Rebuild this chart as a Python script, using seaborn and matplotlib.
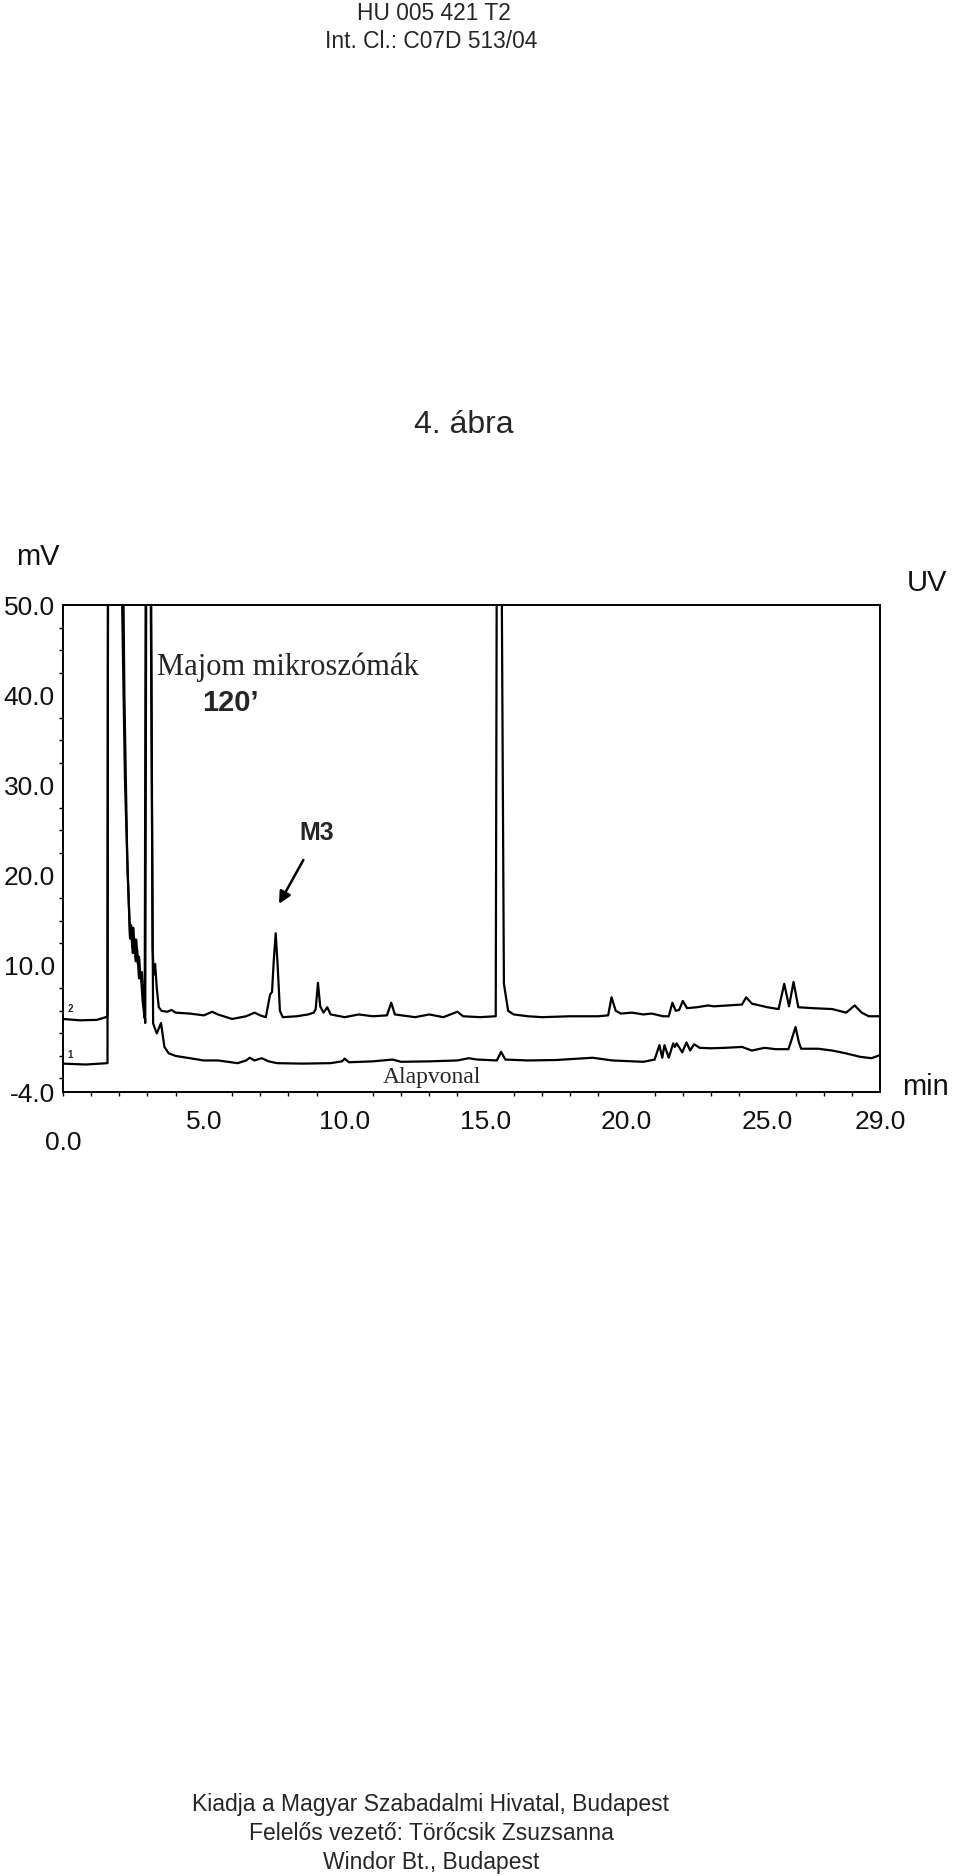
import numpy as np
import pandas as pd
import matplotlib
matplotlib.use("Agg")
import matplotlib.pyplot as plt
from matplotlib.ticker import MultipleLocator
import seaborn as sns

# trace 2: monkey microsomes, 120 min (60 = off scale)
t_minta = [0.0, 0.6, 1.2, 1.58, 1.6, 2.05, 2.1, 2.2, 2.3, 2.38, 2.42, 2.46, 2.5, 2.55, 2.6,
           2.66, 2.7, 2.75, 2.8, 2.86, 2.92, 2.96, 3.12, 3.18, 3.22, 3.27, 3.33, 3.4, 3.5,
           3.7, 3.85, 4.0, 4.5, 5.0, 5.3, 5.5, 6.0, 6.5, 6.8, 7.0, 7.2, 7.35, 7.42, 7.48,
           7.55, 7.62, 7.7, 7.8, 8.3, 8.7, 8.9, 8.97, 9.05, 9.13, 9.25, 9.38, 9.5, 10.0,
           10.5, 11.0, 11.5, 11.65, 11.78, 12.5, 13.0, 13.5, 14.0, 14.2, 14.8, 15.36, 15.4,
           15.56, 15.65, 15.8, 16.0, 16.5, 17.0, 18.0, 19.0, 19.35, 19.47, 19.62, 19.8,
           20.2, 20.6, 20.9, 21.3, 21.5, 21.63, 21.75, 21.87, 22.0, 22.15, 22.5, 22.9,
           23.1, 23.6, 24.1, 24.25, 24.45, 25.0, 25.4, 25.6, 25.77, 25.93, 26.1, 26.6,
           27.3, 27.8, 28.1, 28.35, 28.6, 29.0]
mv_minta = [4.1, 3.95, 4.0, 4.35, 60, 60, 50, 30.6, 20, 13.4, 14.5, 12.0, 14.2, 11.4, 12.9,
            10.2, 11.0, 8.8, 9.3, 6.8, 3.65, 60, 60, 12, 9.0, 10.2, 7.5, 5.4, 5.0,
            4.9, 5.1, 4.8, 4.7, 4.5, 4.9, 4.6, 4.1, 4.4, 4.8, 4.5, 4.3, 6.8, 7.1, 10.5,
            13.6, 10.0, 5.0, 4.3, 4.4, 4.6, 4.8, 5.2, 8.1, 5.5, 4.8, 5.4, 4.6, 4.3,
            4.6, 4.4, 4.5, 5.9, 4.6, 4.3, 4.6, 4.3, 4.9, 4.4, 4.3, 4.4, 60,
            60, 8, 5.0, 4.6, 4.4, 4.3, 4.4, 4.4, 4.5, 6.5, 5.0, 4.7,
            4.8, 4.6, 4.7, 4.4, 4.4, 5.9, 5.0, 5.1, 6.1, 5.3, 5.4, 5.6,
            5.5, 5.6, 5.7, 6.5, 5.8, 5.4, 5.2, 8.0, 5.5, 8.2, 5.4, 5.3,
            5.2, 4.8, 5.6, 4.8, 4.4, 4.4]

# trace 1: alapvonal (baseline run)
t_alap = [0.0, 0.8, 1.58, 1.6, 2.12, 2.18, 2.28, 2.38, 2.43, 2.48, 2.52, 2.58, 2.63, 2.7,
          2.76, 2.83, 2.9, 2.94, 3.1, 3.2, 3.33, 3.48, 3.6, 3.75, 4.0, 4.5, 5.0, 5.5, 6.2,
          6.5, 6.63, 6.8, 7.05, 7.3, 7.6, 8.5, 9.5, 9.9, 10.0, 10.15, 11.0, 11.7, 12.0,
          13.0, 14.0, 14.4, 14.7, 15.4, 15.55, 15.7, 16.5, 17.5, 18.8, 19.5, 20.6, 21.0,
          21.17, 21.27, 21.35, 21.5, 21.66, 21.72, 21.78, 21.98, 22.13, 22.26, 22.4, 22.6,
          23.0, 23.5, 24.1, 24.45, 24.9, 25.3, 25.75, 25.88, 26.0, 26.12, 26.2, 26.8,
          27.3, 27.77, 28.3, 28.7, 29.0]
mv_alap = [-0.85, -0.95, -0.8, 60, 60, 40, 22, 13.0, 13.8, 11.4, 13.2, 10.5, 11.8, 8.6,
           9.2, 6.0, 4.2, 60, 60, 3.6, 2.5, 3.65, 1.0, 0.3, 0.0, -0.25, -0.5, -0.5, -0.8,
           -0.5, -0.2, -0.5, -0.25, -0.6, -0.8, -0.85, -0.8, -0.6, -0.3, -0.7, -0.6, -0.4, -0.65,
           -0.6, -0.5, -0.25, -0.4, -0.5, 0.45, -0.4, -0.5, -0.45, -0.2, -0.5, -0.65, -0.4,
           1.2, -0.2, 1.2, -0.2, 1.4, 1.0, 1.4, 0.4, 1.5, 0.6, 1.3, 0.9,
           0.85, 0.9, 1.0, 0.6, 0.9, 0.75, 0.75, 2.0, 3.2, 1.5, 0.8, 0.8,
           0.6, 0.3, -0.1, -0.25, 0.1]

y_ticks = [-4, 10, 20, 30, 40, 50]
y_labels = ["-4.0", "10.0", "20.0", "30.0", "40.0", "50.0"]
x_ticks = [5, 10, 15, 20, 25, 29]
x_labels = ["5.0", "10.0", "15.0", "20.0", "25.0", "29.0"]

sns.set_style("white")
plt.rcParams["font.family"] = ["Liberation Sans", "DejaVu Sans"]

fig = plt.figure(figsize=(9.6, 18.76), dpi=100)
ax = fig.add_axes([0.0656, 0.4179, 0.8511, 0.2596])

df2 = pd.DataFrame({"t": t_minta, "mv": mv_minta})
df1 = pd.DataFrame({"t": t_alap, "mv": mv_alap})
sns.lineplot(data=df2, x="t", y="mv", ax=ax, color="black", lw=1.6,
             estimator=None, sort=False)
sns.lineplot(data=df1, x="t", y="mv", ax=ax, color="black", lw=1.6,
             estimator=None, sort=False)

ax.set_xlim(0, 29)
ax.set_ylim(-4, 50)
ax.set_xlabel("")
ax.set_ylabel("")
for s in ax.spines.values():
    s.set_color("black")
    s.set_linewidth(1.4)

ax.set_yticks(y_ticks)
ax.set_yticklabels(y_labels)
ax.set_xticks(x_ticks)
ax.set_xticklabels(x_labels)
ax.yaxis.set_minor_locator(MultipleLocator(2.5))
ax.xaxis.set_minor_locator(MultipleLocator(1))
ax.tick_params(axis="both", which="major", direction="out", length=5, width=1.2,
               labelsize=19, color="black", labelcolor="#111111")
ax.tick_params(axis="both", which="minor", direction="out", length=3, width=1.0,
               color="black")
ax.tick_params(axis="x", which="major", pad=8)
ax.tick_params(axis="y", which="major", pad=1)
ax.tick_params(axis="x", which="minor", bottom=True)
ax.tick_params(axis="y", which="minor", left=True)

ax.text(0, -0.105, "0.0", transform=ax.get_xaxis_transform(), ha="center", va="center",
        fontsize=19, color="#111111")

# trace numbers
ax.text(0.15, 4.6, "2", fontsize=7, fontweight="bold", va="bottom")
ax.text(0.15, -0.5, "1", fontsize=7, fontweight="bold", va="bottom")

ax.text(3.33, 43.1, "Majom mikroszómák", family=["Liberation Serif", "DejaVu Serif"],
        fontsize=22, va="center", ha="left")
ax.text(4.93, 39.1, "120’", fontsize=21, fontweight="bold", va="center", ha="left")
ax.text(8.4, 24.7, "M3", fontsize=18, fontweight="bold", va="center", ha="left")
ax.annotate("", xy=(7.62, 16.6), xytext=(8.58, 22.0),
            arrowprops=dict(arrowstyle="-|>", color="black", lw=1.8, mutation_scale=18))
ax.text(13.1, -2.4, "Alapvonal", family=["Liberation Serif", "DejaVu Serif"],
        fontsize=17, va="center", ha="center")

# outside labels
fig.text(38 / 960, 1 - 557 / 1876, "mV", fontsize=21, ha="center", va="center", color="#111111")
fig.text(927 / 960, 1 - 583 / 1876, "UV", fontsize=21, ha="center", va="center", color="#111111")
fig.text(925 / 960, 1 - 1087 / 1876, "min", fontsize=21, ha="center", va="center", color="#111111")

fig.text(464 / 960, 1 - 425 / 1876, "4. ábra", fontsize=23, ha="center", va="center")
fig.text(434 / 960, 1 - 13 / 1876, "HU 005 421 T2", fontsize=16.4, ha="center", va="center")
fig.text(431 / 960, 1 - 42 / 1876, "Int. Cl.: C07D 513/04", fontsize=16.4, ha="center", va="center")

fig.text(431 / 960, 1 - 1804 / 1876, "Kiadja a Magyar Szabadalmi Hivatal, Budapest",
         fontsize=16.5, ha="center", va="center")
fig.text(431 / 960, 1 - 1833 / 1876, "Felelős vezető: Törőcsik Zsuzsanna",
         fontsize=16.5, ha="center", va="center")
fig.text(431 / 960, 1 - 1862 / 1876, "Windor Bt., Budapest",
         fontsize=16.5, ha="center", va="center")

fig.savefig("out.png", dpi=100, facecolor="white")
